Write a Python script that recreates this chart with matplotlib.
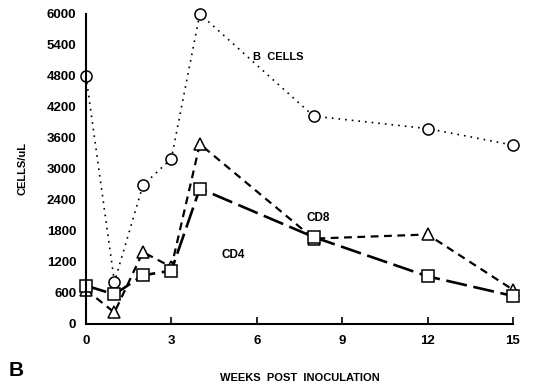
import matplotlib
matplotlib.use('Agg')
import matplotlib.pyplot as plt

plt.rcParams['font.family'] = ['Liberation Sans', 'DejaVu Sans']
plt.rcParams['font.weight'] = 'bold'

# weeks post inoculation
weeks = [0, 1, 2, 3, 4, 8, 12, 15]
b_cells = [4800, 810, 2680, 3200, 6000, 4020, 3780, 3460]
cd8 = [660, 220, 1390, 1100, 3480, 1650, 1730, 660]
cd4 = [740, 570, 940, 1030, 2620, 1680, 920, 540]

x_ticks = [0, 3, 6, 9, 12, 15]
y_ticks = list(range(0, 6001, 600))

fig = plt.figure(figsize=(5.51, 3.86), dpi=100)
ax = fig.add_axes([0.156, 0.161, 0.775, 0.803])

ax.plot(weeks, b_cells, color='black', linestyle=(0, (1, 3)), linewidth=1.2,
        marker='o', markersize=8, markerfacecolor='white', markeredgecolor='black', markeredgewidth=1.1)
ax.plot(weeks, cd8, color='black', linestyle=(0, (3.5, 2.5)), linewidth=1.6,
        marker='^', markersize=8.5, markerfacecolor='white', markeredgecolor='black', markeredgewidth=1.1)
ax.plot(weeks, cd4, color='black', linestyle=(0, (8, 2.5)), linewidth=1.9,
        marker='s', markersize=8, markerfacecolor='white', markeredgecolor='black', markeredgewidth=1.1)

ax.text(6.75, 5160, 'B  CELLS', fontsize=8, fontweight='heavy', ha='center', va='center')
ax.text(8.15, 2050, 'CD8', fontsize=8.5, fontweight='heavy', ha='center', va='center')
ax.text(5.16, 1335, 'CD4', fontsize=8.5, fontweight='heavy', ha='center', va='center')

ax.set_xlim(0, 15)
ax.set_ylim(0, 6000)
ax.set_xticks(x_ticks)
ax.set_yticks(y_ticks)
ax.tick_params(axis='both', labelsize=9.5, width=1.2, length=5)
ax.tick_params(axis='x', direction='in', pad=8)
ax.tick_params(axis='y', direction='out', length=0, pad=7)
for lab in ax.get_xticklabels() + ax.get_yticklabels():
    lab.set_fontweight('heavy')
ax.spines['top'].set_visible(False)
ax.spines['right'].set_visible(False)
ax.spines['left'].set_linewidth(1.5)
ax.spines['bottom'].set_linewidth(1.5)
for m in ax.get_lines():
    m.set_clip_on(False)

ax.set_ylabel('CELLS/uL', fontsize=8, fontweight='heavy', labelpad=14)
fig.text(0.545, 0.02, 'WEEKS  POST  INOCULATION', fontsize=8, fontweight='heavy', ha='center', va='center')
fig.text(0.015, 0.04, 'B', fontsize=15, fontweight='heavy', ha='left', va='center')

fig.savefig('out.png', dpi=100)
